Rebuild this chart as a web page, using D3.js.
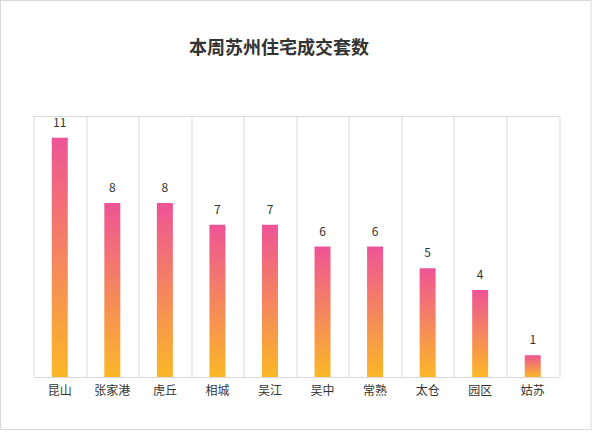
<!DOCTYPE html>
<html>
<head>
<meta charset="utf-8">
<script src="https://cdn.jsdelivr.net/npm/d3@7"></script>
<style>
  html, body { margin: 0; padding: 0; background: #fff; }
  text { font-family: "Noto Sans CJK SC", "Microsoft YaHei", sans-serif; }
</style>
</head>
<body>
<div id="chart"></div>
<script>
// data
var districts = ["昆山", "张家港", "虎丘", "相城", "吴江", "吴中", "常熟", "太仓", "园区", "姑苏"];
var deals = [11, 8, 8, 7, 7, 6, 6, 5, 4, 1];
var chartTitle = "本周苏州住宅成交套数";

var W = 592, H = 438;
var margin = {top: 116, right: 33, bottom: 61, left: 33.5},
    width = W - margin.left - margin.right,
    height = H - margin.top - margin.bottom;

var root = d3.select("#chart")
  .append("svg")
    .attr("width", W)
    .attr("height", H);

// outer frame
root.append("rect")
  .attr("x", 0.5).attr("y", 0.5)
  .attr("width", W - 1.5).attr("height", 429)
  .attr("fill", "none")
  .attr("stroke", "#d9d9d9");

// gradient, top pink to bottom orange
var grad = root.append("defs").append("linearGradient")
  .attr("id", "barGrad")
  .attr("x1", 0).attr("y1", 0).attr("x2", 0).attr("y2", 1);
grad.append("stop").attr("offset", "0%").attr("stop-color", "#ee5496");
grad.append("stop").attr("offset", "100%").attr("stop-color", "#fbb727");

root.append("text")
  .attr("x", 279)
  .attr("y", 54)
  .attr("text-anchor", "middle")
  .attr("font-size", 18)
  .attr("font-weight", "bold")
  .attr("fill", "#333")
  .text(chartTitle);

var svg = root.append("g")
  .attr("transform", "translate(" + margin.left + "," + margin.top + ")");

var x = d3.scaleBand()
  .domain(districts)
  .range([0, width]);

var y = d3.scaleLinear()
  .domain([0, 12])
  .range([height, 0]);

// vertical dividers between categories
var edges = districts.map(function(d) { return x(d) }).concat([width]);
svg.selectAll(".vgrid")
  .data(edges)
  .enter()
  .append("line")
    .attr("class", "vgrid")
    .attr("x1", function(d) { return Math.round(d) + 0.5 })
    .attr("x2", function(d) { return Math.round(d) + 0.5 })
    .attr("y1", 0)
    .attr("y2", height)
    .attr("stroke", "#d9d9d9");

// top line
svg.append("line")
  .attr("x1", 0).attr("x2", width)
  .attr("y1", 0.5).attr("y2", 0.5)
  .attr("stroke", "#d9d9d9");

// x axis
svg.append("g")
  .attr("transform", "translate(0," + height + ")")
  .call(d3.axisBottom(x).tickSize(0).tickPadding(9))
  .call(function(g) {
    g.select(".domain").attr("stroke", "#d9d9d9");
    g.selectAll("text")
      .attr("font-size", 12)
      .attr("fill", "#333")
      .style("font-family", "'Noto Sans CJK SC', sans-serif");
  });

var barW = 16;
svg.selectAll(".bar")
  .data(deals)
  .enter()
  .append("rect")
    .attr("class", "bar")
    .attr("x", function(d, i) { return x(districts[i]) + x.bandwidth() / 2 - barW / 2 })
    .attr("y", function(d) { return y(d) })
    .attr("width", barW)
    .attr("height", function(d) { return height - y(d) })
    .attr("fill", "url(#barGrad)");

svg.selectAll(".lbl")
  .data(deals)
  .enter()
  .append("text")
    .attr("class", "lbl")
    .attr("x", function(d, i) { return x(districts[i]) + x.bandwidth() / 2 })
    .attr("y", function(d) { return y(d) - 11 })
    .attr("text-anchor", "middle")
    .attr("font-size", 12)
    .attr("fill", "#333")
    .text(function(d) { return d });
</script>
</body>
</html>
